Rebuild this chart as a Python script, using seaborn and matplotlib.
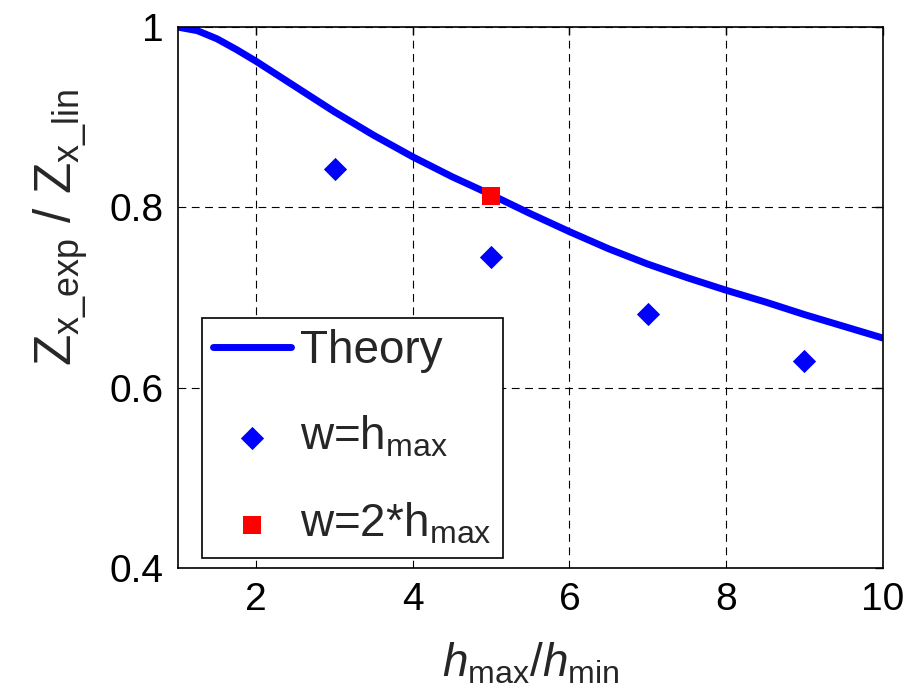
import numpy as np
import pandas as pd
import matplotlib
matplotlib.use("Agg")
import matplotlib.pyplot as plt
import seaborn as sns

# courbe théorique
theory_x = [1, 1.25, 1.5, 1.75, 2, 2.5, 3, 3.5, 4, 4.5, 5, 5.5, 6, 6.5, 7, 7.5, 8, 8.5, 9, 9.5, 10]
theory_y = [1.0, 0.996, 0.987, 0.975, 0.962, 0.934, 0.906, 0.880, 0.856, 0.834, 0.814, 0.793,
            0.773, 0.754, 0.737, 0.722, 0.708, 0.695, 0.681, 0.668, 0.655]

# mesures w = h_max
wh_x = [3, 5, 7, 9]
wh_y = [0.842, 0.745, 0.682, 0.630]

# mesure w = 2*h_max
w2h_x = [5]
w2h_y = [0.813]

x_ticks = [2, 4, 6, 8, 10]
y_ticks = [0.4, 0.6, 0.8, 1.0]
y_ticklabels = ["0.4", "0.6", "0.8", "1"]

sns.set_theme(style="white")
plt.rcParams['font.family'] = ['Liberation Sans', 'DejaVu Sans']
plt.rcParams['mathtext.fontset'] = 'custom'
plt.rcParams['mathtext.rm'] = 'Liberation Sans'
plt.rcParams['mathtext.it'] = 'Liberation Sans:italic'

fig = plt.figure(figsize=(9.12, 6.95), dpi=100)
ax = fig.add_axes([0.195, 0.183, 0.773, 0.778])

sns.lineplot(x=theory_x, y=theory_y, color="blue", lw=5, label="Theory", ax=ax)
sns.scatterplot(x=wh_x, y=wh_y, marker="D", color="blue", s=140, linewidth=0,
                label=r"w=h$_{\mathrm{max}}$", ax=ax)
sns.scatterplot(x=w2h_x, y=w2h_y, marker="s", color="red", s=170, linewidth=0,
                label=r"w=2*h$_{\mathrm{max}}$", ax=ax, zorder=5)

ax.set_xlim(1, 10)
ax.set_ylim(0.4, 1.0)
ax.set_xticks(x_ticks)
ax.set_yticks(y_ticks)
ax.set_yticklabels(y_ticklabels)
ax.tick_params(direction="in", length=6, width=1, top=True, right=True,
               labelsize=28, pad=10, colors="black")

ax.grid(True, color="black", linestyle=(0, (7, 5)), linewidth=0.8)
for s in ax.spines.values():
    s.set_visible(True)
    s.set_color("black")
    s.set_linewidth(1.2)

ax.set_xlabel(r"$h_{\mathrm{max}}/h_{\mathrm{min}}$", fontsize=33)
ax.xaxis.set_label_coords(0.5, -0.135)
ax.set_ylabel(r"Z$_{\mathrm{x\_exp}}$ / Z$_{\mathrm{x\_lin}}$", fontsize=37)
ax.yaxis.set_label_coords(-0.125, 0.63)

leg = ax.legend(loc="lower left", bbox_to_anchor=(0.034, 0.018), borderaxespad=0,
                fontsize=33, fancybox=False, framealpha=1, edgecolor="black",
                handlelength=1.7, handletextpad=0.2, labelspacing=0.9,
                borderpad=0.25)
leg.get_frame().set_linewidth(1.2)

fig.savefig("out.png", dpi=100, facecolor="white")
